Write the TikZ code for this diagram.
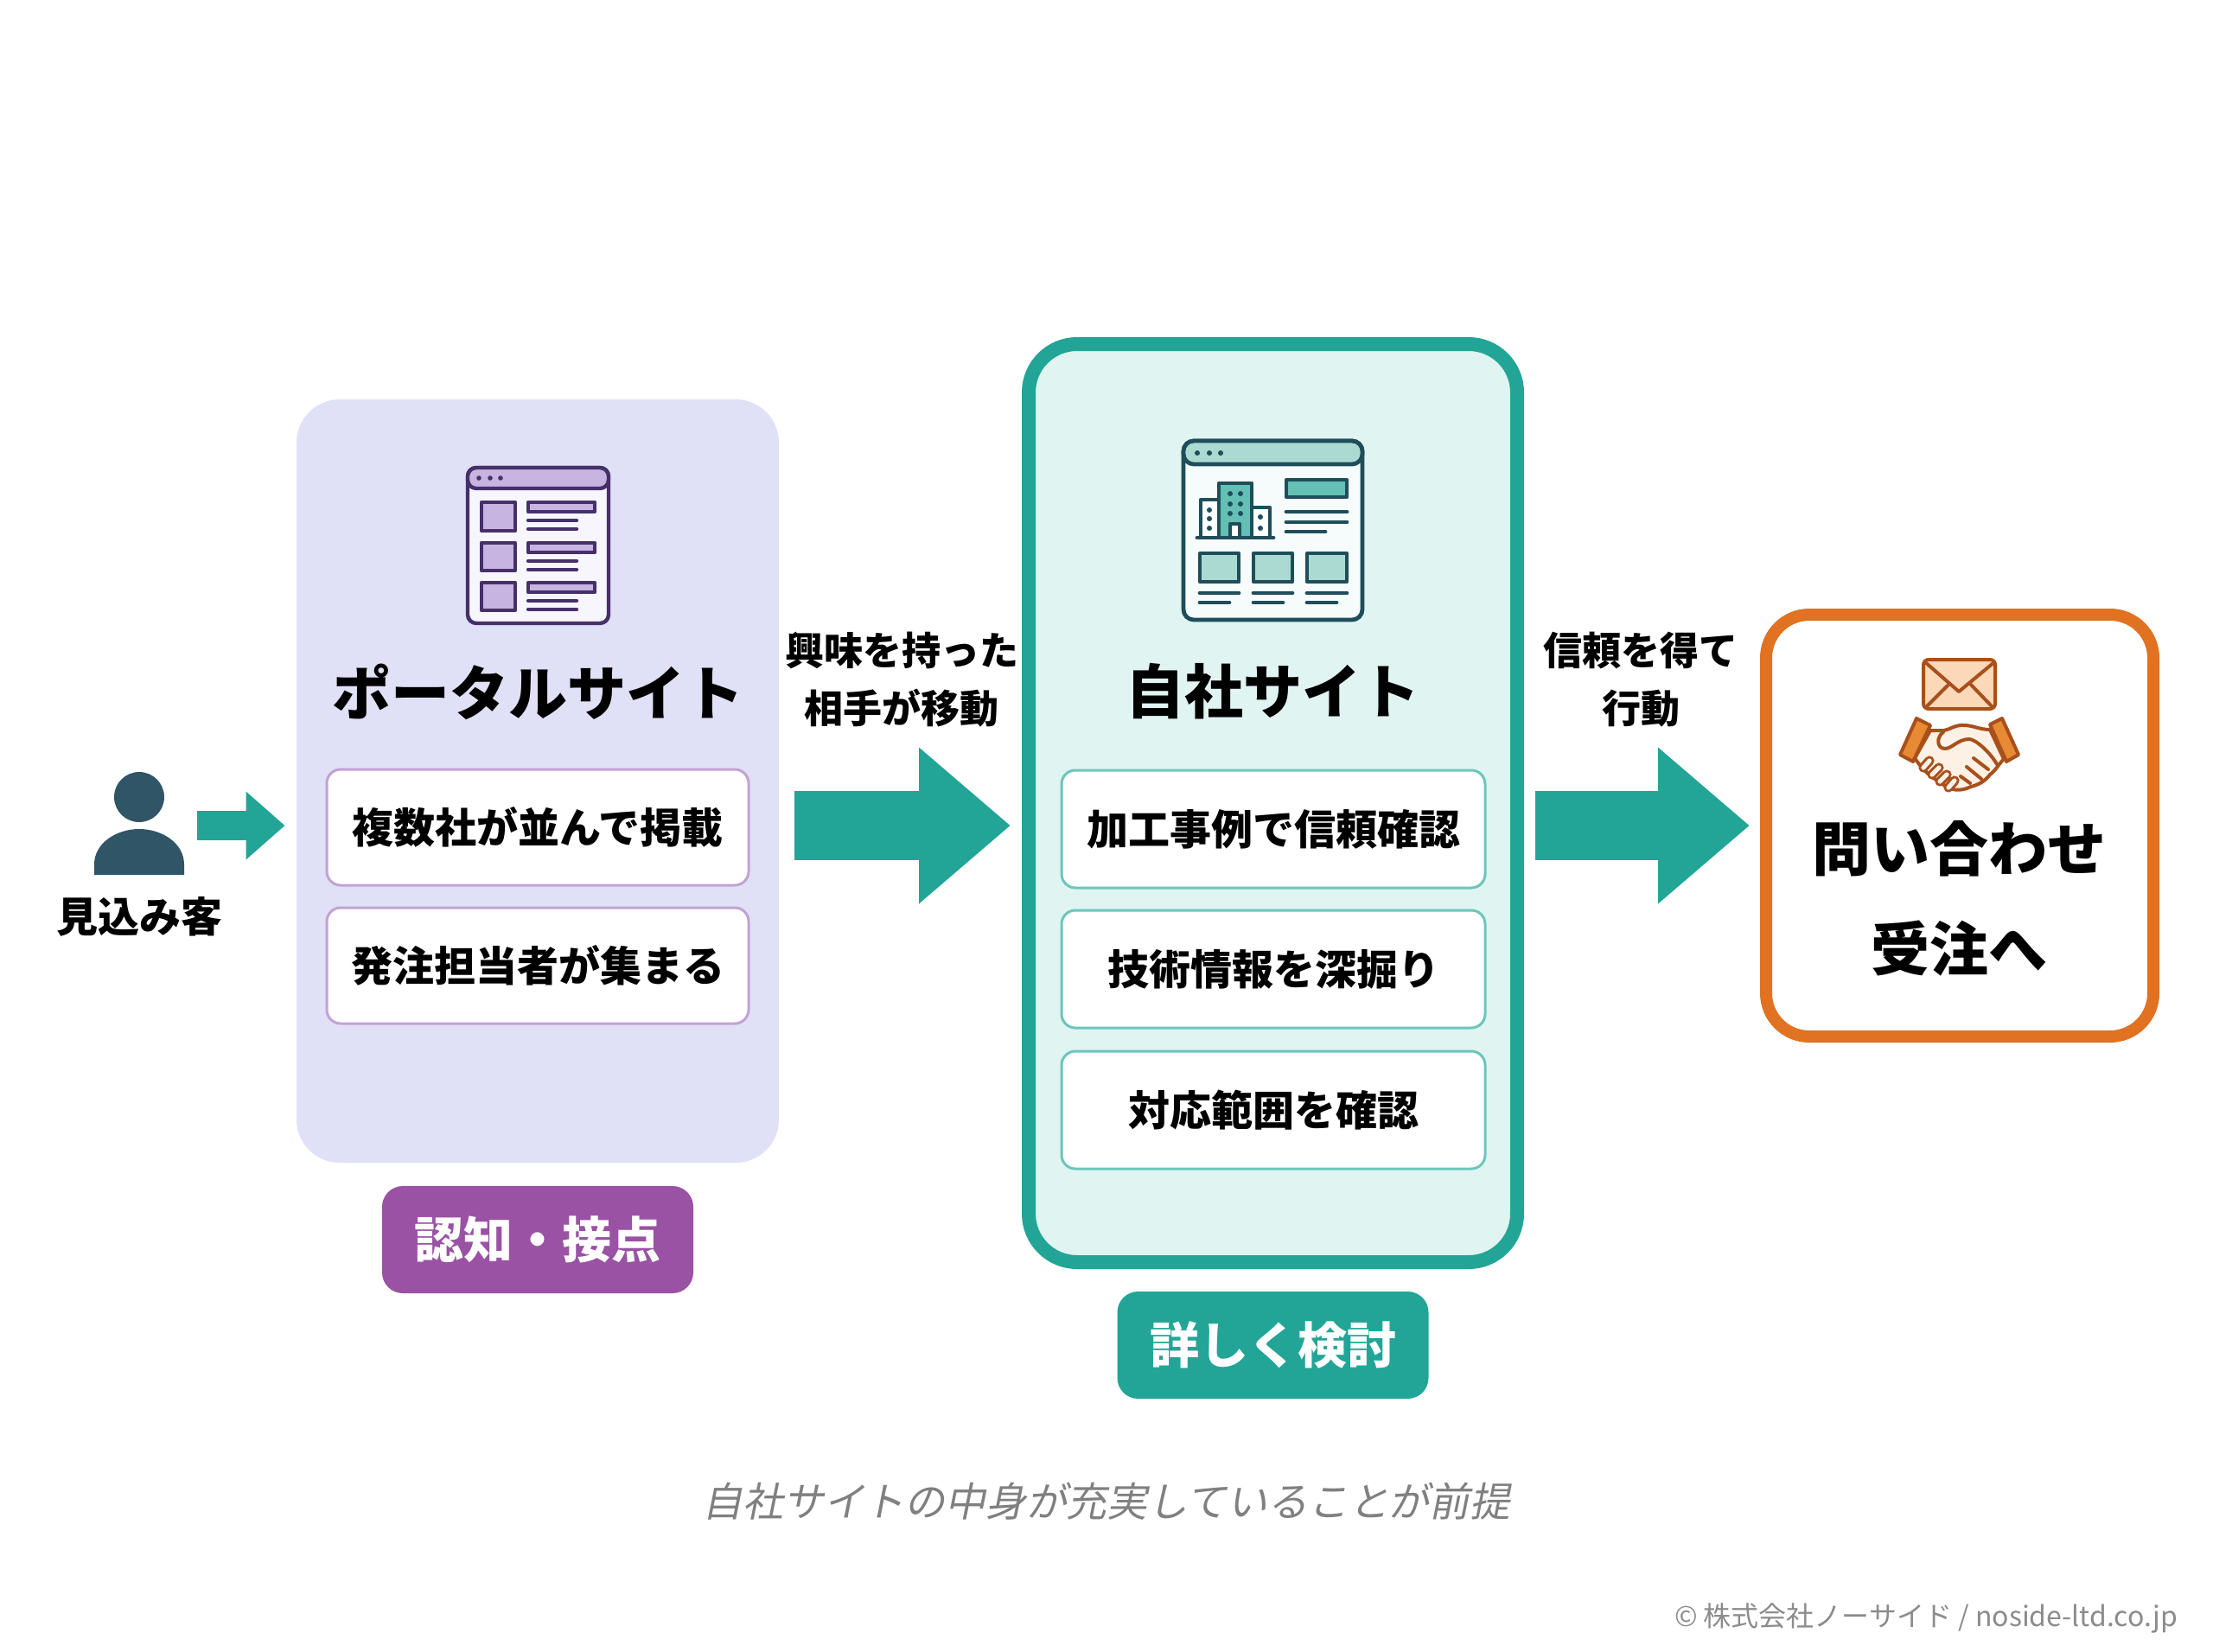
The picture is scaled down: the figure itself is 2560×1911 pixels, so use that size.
\documentclass[tikz,border=0pt]{standalone}
\usepackage{fontspec}
\setmainfont{Noto Sans CJK JP}
\newfontfamily\slantfont[FakeSlant=0.2]{Noto Sans CJK JP}
\usetikzlibrary{arrows.meta}

\definecolor{tealmain}{HTML}{22A596}
\definecolor{tealpale}{HTML}{E0F4F1}
\definecolor{tealedge}{HTML}{6CC6BB}
\definecolor{tealmid}{HTML}{ABDAD3}
\definecolor{tealink}{HTML}{1F4E5A}
\definecolor{lavender}{HTML}{E0E0F6}
\definecolor{purplemain}{HTML}{9A52A4}
\definecolor{purpleedge}{HTML}{C2A2D4}
\definecolor{purplemid}{HTML}{C8B4E0}
\definecolor{purpleink}{HTML}{46306A}
\definecolor{orangemain}{HTML}{E07222}
\definecolor{orangeink}{HTML}{A8501C}
\definecolor{orangepale}{HTML}{FAD8B8}
\definecolor{orangecuff}{HTML}{E88A34}
\definecolor{personblue}{HTML}{2F5566}

\tikzset{
  bigarrow/.style={draw=tealmain, line width=40pt, -{Triangle[length=53pt, width=87pt]}},
  smallarrow/.style={draw=tealmain, line width=17pt, -{Triangle[length=22.5pt, width=38pt]}},
  portalpanel/.style={fill=lavender, rounded corners=25pt, minimum width=279pt, minimum height=441.5pt},
  sitepanel/.style={draw=tealmain, line width=8pt, fill=tealpale, rounded corners=28pt, minimum width=282.5pt, minimum height=531pt},
  goalpanel/.style={draw=orangemain, line width=7pt, fill=white, rounded corners=25pt, minimum width=224pt, minimum height=244pt},
  portalitem/.style={draw=purpleedge, line width=1.5pt, fill=white, rounded corners=8pt, minimum width=244pt, minimum height=67pt, font=\fontsize{24}{28}\selectfont\bfseries},
  siteitem/.style={draw=tealedge, line width=1.5pt, fill=white, rounded corners=8pt, minimum width=245pt, minimum height=68pt, font=\fontsize{24}{28}\selectfont\bfseries},
  tagbox/.style={rounded corners=12pt, minimum width=180pt, minimum height=62pt, text=white, font=\fontsize{28.5}{34}\selectfont\bfseries},
  titletext/.style={font=\fontsize{34}{40}\selectfont\bfseries},
  steptext/.style={align=center, font=\fontsize{22.5}{33.5}\selectfont\bfseries},
  portalicon/.style={draw=purpleink, line width=2.2pt, line join=round},
  portalline/.style={draw=purpleink, line width=2.2pt, line cap=round},
  siteicon/.style={draw=tealink, line width=2.4pt, line join=round},
  siteline/.style={draw=tealink, line width=2.4pt, line cap=round},
  handicon/.style={draw=orangeink, line width=2pt, line join=round, line cap=round},
  fingeredge/.style={draw=orangeink, line width=5.6pt, line cap=round},
  fingerfill/.style={draw=orangepale!35, line width=2.6pt, line cap=round}
}

\begin{document}
\begin{tikzpicture}[x=0.5pt, y=-0.5pt]
    \useasboundingbox (0,0) rectangle (2560,1911);

    % Prospect
    \fill[personblue] (161,922) circle (29);
    \fill[personblue] (109,1012) -- (109,1000) .. controls (109,975) and (135,959) .. (161,959) .. controls (187,959) and (213,975) .. (213,1000) -- (213,1012) -- cycle;
    \node[font=\fontsize{24}{28}\selectfont\bfseries] (Prospect) at (161,1060) {見込み客};
    \coordinate (ProspectEnd) at (228,955);

    % Portal site
    \node[portalpanel] (Portal) at (622,903.5) {};
    \node[titletext] (PortalTitle) at (622,800) {ポータルサイト};
    \node[portalitem] (PortalA) at (622,957) {複数社が並んで掲載};
    \node[portalitem] (PortalB) at (622,1117) {発注担当者が集まる};
    \node[tagbox, fill=purplemain] (PortalTag) at (622,1434) {認知・接点};

    % Portal icon
    \draw[portalicon, fill=white!70!lavender, rounded corners=5pt] (541,541) rectangle (704,721);
    \draw[portalicon, fill=purplemid, rounded corners=5pt] (541,565) -- (541,541) -- (704,541) -- (704,565) -- cycle;
    \fill[purpleink] (554,553) circle (2.8) (567,553) circle (2.8) (579,553) circle (2.8);
    \draw[portalicon, fill=purplemid] (557,581) rectangle (596,614);
    \draw[portalicon, fill=purplemid] (557,628) rectangle (596,660);
    \draw[portalicon, fill=purplemid] (557,674) rectangle (596,706);
    \draw[portalicon, fill=purplemid] (611,581) rectangle (688,592);
    \draw[portalicon, fill=purplemid] (611,628) rectangle (688,639);
    \draw[portalicon, fill=purplemid] (611,674) rectangle (688,685);
    \draw[portalline] (611,602) -- (667,602) (611,612) -- (667,612);
    \draw[portalline] (611,649) -- (667,649) (611,659) -- (667,659);
    \draw[portalline] (611,695) -- (667,695) (611,705) -- (667,705);

    % Own site
    \node[sitepanel] (Site) at (1472.5,929) {};
    \node[titletext] (SiteTitle) at (1472,800) {自社サイト};
    \node[siteitem] (SiteA) at (1473,959) {加工事例で信頼確認};
    \node[siteitem] (SiteB) at (1473,1121) {技術情報を深掘り};
    \node[siteitem] (SiteC) at (1473,1284) {対応範囲を確認};
    \node[tagbox, fill=tealmain] (SiteTag) at (1472.5,1556) {詳しく検討};

    % Own site icon
    \draw[siteicon, fill=white!70!tealpale, rounded corners=6pt] (1369,510) rectangle (1576,717);
    \draw[siteicon, fill=tealmid, rounded corners=6pt] (1369,537) -- (1369,510) -- (1576,510) -- (1576,537) -- cycle;
    \fill[tealink] (1385,524) circle (3) (1399,524) circle (3) (1412,524) circle (3);
    \draw[siteicon, fill=white] (1389,622) -- (1389,578) -- (1410,578) -- (1410,622);
    \draw[siteicon, fill=white] (1448,622) -- (1448,587) -- (1469,587) -- (1469,622);
    \draw[siteicon, fill=tealmain!70] (1410,622) -- (1410,559) -- (1448,559) -- (1448,622);
    \draw[siteicon, fill=white] (1423,622) -- (1423,606) -- (1434,606) -- (1434,622);
    \draw[siteline] (1385,622) -- (1473,622);
    \fill[tealink] (1423,571) circle (3) (1435,571) circle (3) (1423,583) circle (3) (1435,583) circle (3) (1423,594) circle (3) (1435,594) circle (3);
    \fill[tealink] (1399,590) circle (3) (1399,600) circle (3) (1399,611) circle (3) (1458,598) circle (3) (1458,611) circle (3);
    \draw[siteicon, fill=tealmain!70] (1488,555) rectangle (1558,575);
    \draw[siteline] (1488,592) -- (1558,592) (1488,604) -- (1558,604) (1488,615) -- (1533,615);
    \draw[siteicon, fill=tealmid] (1388,640) rectangle (1433,673);
    \draw[siteicon, fill=tealmid] (1450,640) rectangle (1495,673);
    \draw[siteicon, fill=tealmid] (1512,640) rectangle (1558,673);
    \draw[siteline] (1388,686) -- (1433,686) (1450,686) -- (1495,686) (1512,686) -- (1558,686);
    \draw[siteline] (1388,697) -- (1422,697) (1450,697) -- (1484,697) (1512,697) -- (1546,697);

    % Inquiry
    \node[goalpanel] (Goal) at (2267,955) {};
    \node[align=center, font=\fontsize{34}{58}\selectfont\bfseries] (GoalText) at (2266,1039) {問い合わせ\\受注へ};

    % Envelope
    \draw[handicon, fill=orangepale, rounded corners=3pt] (2225,763) rectangle (2308,820);
    \draw[handicon] (2227,766) -- (2266,800) -- (2307,766);
    \draw[handicon] (2228,818) -- (2253,793) (2305,818) -- (2280,792);

    % Handshake
    \draw[handicon, fill=orangepale!35] (2233,845) -- (2248,845) .. controls (2256,844) and (2262,838) .. (2272,839) .. controls (2282,839) and (2290,844) .. (2302,844) -- (2318,878) .. controls (2312,884) and (2308,892) .. (2302,896) .. controls (2296,904) and (2288,908) .. (2280,910) .. controls (2268,916) and (2255,915) .. (2245,905) .. controls (2235,900) and (2225,892) .. (2215,877) -- cycle;
    \draw[handicon, fill=white!70!orangepale] (2248,847) .. controls (2240,852) and (2240,866) .. (2250,866) .. controls (2258,866) and (2265,855) .. (2278,855) .. controls (2285,855) and (2302,870) .. (2310,884);
    \draw[fingeredge] (2225,888) -- (2232,880) (2235,896) -- (2243,888) (2244,904) -- (2252,896) (2254,911) -- (2261,903);
    \draw[fingerfill] (2225,888) -- (2232,880) (2235,896) -- (2243,888) (2244,904) -- (2252,896) (2254,911) -- (2261,903);
    \draw[handicon] (2283,877) -- (2300,890) (2275,887) -- (2292,901) (2268,898) -- (2279,906);
    \draw[handicon, fill=orangecuff] (2217,831) -- (2233,839) -- (2213,881) -- (2198,873) -- cycle;
    \draw[handicon, fill=orangecuff] (2316,831) -- (2302,838) -- (2321,881) -- (2335,873) -- cycle;

    % Connections
    \node[steptext] (StepOne) at (1043,786) {興味を持った\\相手が移動};
    \node[steptext] (StepTwo) at (1898,786) {信頼を得て\\行動};
    \draw[smallarrow, shorten >=6.5pt] (ProspectEnd) -- (Portal.west |- ProspectEnd);
    \draw[bigarrow, shorten <=9pt, shorten >=6.5pt] (Portal.east |- Goal.west) -- (Site.west |- Goal.west);
    \draw[bigarrow, shorten <=6.5pt, shorten >=6pt] (Site.east |- Goal.west) -- (Goal.west);

    % Notes
    \node[text=black!50, font=\fontsize{23.4}{28}\slantfont] (Note) at (1280,1737) {自社サイトの中身が充実していることが前提};
    \node[text=black!45, font=\fontsize{16}{20}\selectfont] (Credit) at (2228,1872) {© 株式会社ノーサイド / noside-ltd.co.jp};

\end{tikzpicture}
\end{document}
